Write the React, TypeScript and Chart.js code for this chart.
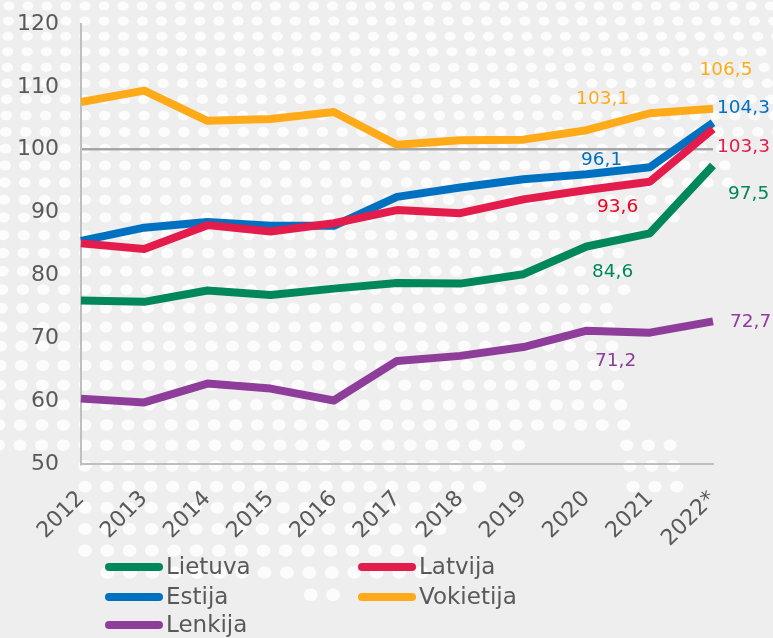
import React, { useEffect, useRef } from "react";
import { Chart, registerables } from "chart.js";
Chart.register(...registerables);

// ---- data ----
const years = ["2012", "2013", "2014", "2015", "2016", "2017", "2018", "2019", "2020", "2021", "2022*"];
const lietuva = [76.0, 75.8, 77.6, 76.9, 77.9, 78.8, 78.7, 80.2, 84.6, 86.7, 97.5];
const latvija = [85.1, 84.2, 88.0, 87.0, 88.3, 90.4, 89.9, 92.1, 93.6, 94.9, 103.3];
const estija = [85.5, 87.6, 88.5, 87.9, 87.9, 92.5, 94.0, 95.3, 96.1, 97.2, 104.3];
const vokietija = [107.6, 109.4, 104.6, 104.9, 106.0, 100.8, 101.5, 101.6, 103.1, 105.8, 106.5];
const lenkija = [60.4, 59.8, 62.8, 62.0, 60.1, 66.4, 67.2, 68.6, 71.2, 70.9, 72.7];
const seriesNames = ["Lietuva", "Latvija", "Estija", "Vokietija", "Lenkija"];
const yMin = 50;
const yMax = 120;
const yStep = 10;
const refLineValue = 100;

// ---- styles ----
const COLORS = ["#00875A", "#E31C4C", "#0070C0", "#FFAB19", "#8E3E9A"];
const FONT = "'DejaVu Sans', Verdana, sans-serif";
const TEXT = "#595959";
const BG = "#eeeeee";

// value labels: dataset index, point index, pixel offsets, alignment, color
const LABELS = [
  { ds: 3, i: 8, dx: 16, dy: -31, align: "center", color: "#FFAB19" },
  { ds: 3, i: 10, dx: 13, dy: -39, align: "center", color: "#FFAB19" },
  { ds: 2, i: 10, dx: 4, dy: -14, align: "left", color: "#0070C0" },
  { ds: 1, i: 10, dx: 4, dy: 18, align: "left", color: "#E31C4C" },
  { ds: 0, i: 10, dx: 15, dy: 29, align: "left", color: "#00875A" },
  { ds: 2, i: 8, dx: 15, dy: -14, align: "center", color: "#0070C0" },
  { ds: 1, i: 8, dx: 31, dy: 17, align: "center", color: "#F0001E" },
  { ds: 0, i: 8, dx: 26, dy: 26, align: "center", color: "#00875A" },
  { ds: 4, i: 10, dx: 17, dy: 1, align: "left", color: "#8E3E9A" },
  { ds: 4, i: 8, dx: 29, dy: 30, align: "center", color: "#8E3E9A" },
];

function dotVisible(x: number, y: number): boolean {
  if (y < 140) return true;
  if (y < 185) return x < 730;
  if (y < 220) return x < 690;
  if (y < 250) return x < 640;
  if (y < 432) return x < 625;
  if (y < 456) return x < 540 || (x > 612 && x < 682);
  if (y < 495) return (x > 78 && x < 537 - (y - 445) * 1.05) || (x > 612 && x < 680);
  if (y < 560) return x > 78 && x < Math.max(430, 537 - (y - 445) * 1.05);
  if (y < 585) return x > 88 && x < 440;
  if (y < 605) return x > 300 && x < 350;
  return false;
}

const backgroundPlugin = {
  id: "dotsBackground",
  beforeDraw(chart: any) {
    const { ctx, width, height } = chart;
    ctx.save();
    ctx.fillStyle = BG;
    ctx.fillRect(0, 0, width, height);
    ctx.fillStyle = "#fcfcfc";
    let y = 6;
    while (y < height) {
      const dx = 19 + y * 0.006;
      const rx = 5.5 + y * 0.0025;
      const ry = 4.5 + y * 0.003;
      for (let k = -6; k < 45; k++) {
        const x = 85 + k * dx;
        if (x < -10 || x > width + 10) continue;
        if (!dotVisible(x, y)) continue;
        ctx.beginPath();
        ctx.ellipse(x, y, rx, ry, 0, 0, Math.PI * 2);
        ctx.fill();
      }
      y += 15 + y * 0.0125;
    }
    ctx.restore();
  },
};

const labelsPlugin = {
  id: "valueLabels",
  afterDatasetsDraw(chart: any) {
    const { ctx } = chart;
    const xs = chart.scales.x;
    const ys = chart.scales.y;
    ctx.save();
    ctx.font = `18.5px ${FONT}`;
    ctx.textBaseline = "middle";
    LABELS.forEach((l) => {
      const v = chart.data.datasets[l.ds].data[l.i] as number;
      const px = xs.getPixelForValue(l.i);
      const py = ys.getPixelForValue(v);
      ctx.fillStyle = l.color;
      ctx.textAlign = l.align;
      ctx.fillText(v.toFixed(1).replace(".", ","), px + l.dx, py + l.dy);
    });
    ctx.restore();
  },
};

const legendPlugin = {
  id: "gridLegend",
  afterDraw(chart: any) {
    const { ctx } = chart;
    const colX = [105, 358];
    const rowY = [567, 597, 625];
    ctx.save();
    ctx.font = `23px ${FONT}`;
    ctx.textBaseline = "middle";
    ctx.textAlign = "left";
    chart.data.datasets.forEach((ds: any, idx: number) => {
      const x = colX[idx % 2];
      const y = rowY[Math.floor(idx / 2)];
      ctx.strokeStyle = ds.borderColor;
      ctx.lineWidth = 8;
      ctx.lineCap = "round";
      ctx.beginPath();
      ctx.moveTo(x + 4, y);
      ctx.lineTo(x + 54, y);
      ctx.stroke();
      ctx.fillStyle = TEXT;
      ctx.fillText(ds.label, x + 61, y + 1);
    });
    ctx.restore();
  },
};

export default function App() {
  const ref = useRef<HTMLCanvasElement | null>(null);
  useEffect(() => {
    document.body.style.margin = "0";
    if (!ref.current) return;
    const values = [lietuva, latvija, estija, vokietija, lenkija];
    const chart = new Chart(ref.current, {
      type: "line",
      data: {
        labels: years,
        datasets: values.map((d, i) => ({
          label: seriesNames[i],
          data: d,
          borderColor: COLORS[i],
          backgroundColor: COLORS[i],
          borderWidth: 8,
          borderJoinStyle: "round",
          borderCapStyle: "butt",
          pointRadius: 0,
          pointHoverRadius: 0,
          tension: 0,
          fill: false,
        })),
      },
      options: {
        animation: false,
        responsive: false,
        devicePixelRatio: 1,
        layout: { autoPadding: false, padding: { top: 24, right: 60, left: 0, bottom: 0 } },
        plugins: {
          legend: { display: false },
          tooltip: { enabled: false },
        },
        scales: {
          x: {
            type: "category",
            offset: false,
            grid: { display: false, drawTicks: false },
            border: { display: true, color: "#BFBFBF", width: 2 },
            ticks: {
              color: TEXT,
              font: { family: FONT, size: 22 },
              minRotation: 45,
              maxRotation: 45,
              autoSkip: false,
              padding: 22,
            },
            afterFit: (s: any) => {
              s.height = 174;
              s.paddingLeft = 0;
              s.paddingRight = 0;
            },
          },
          y: {
            min: yMin,
            max: yMax,
            grid: {
              drawTicks: false,
              color: (c: any) => (c.tick && c.tick.value === refLineValue ? "#A6A6A6" : "rgba(0,0,0,0)"),
              lineWidth: 2.5,
            },
            border: { display: true, color: "#BFBFBF", width: 2 },
            ticks: {
              stepSize: yStep,
              color: TEXT,
              font: { family: FONT, size: 22 },
              padding: 22,
            },
            afterFit: (s: any) => {
              s.width = 81;
              s.paddingTop = 0;
              s.paddingBottom = 0;
            },
          },
        },
      },
      plugins: [backgroundPlugin, labelsPlugin, legendPlugin],
    });
    return () => chart.destroy();
  }, []);
  return (
    <div style={{ width: 773, height: 638, position: "relative" }}>
      <canvas ref={ref} width={773} height={638} style={{ display: "block", width: 773, height: 638 }} />
    </div>
  );
}
